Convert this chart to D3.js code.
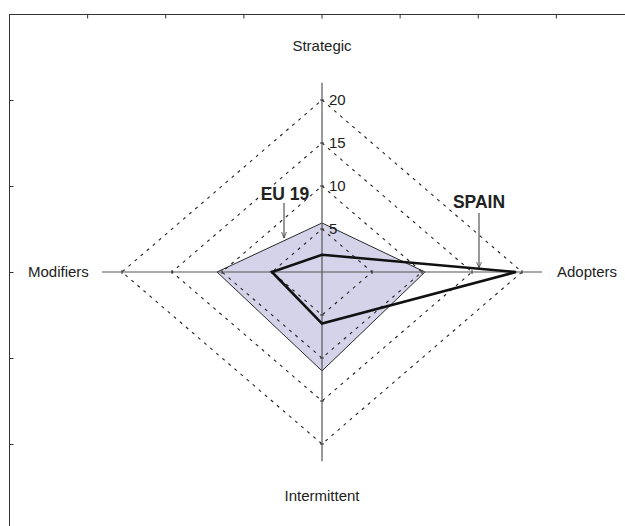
<!DOCTYPE html>
<html><head><meta charset="utf-8">
<script src="https://cdn.jsdelivr.net/npm/d3@7"></script>
<style>body{margin:0;background:#fff}svg{display:block}text{font-family:"Liberation Sans",Arial,sans-serif}</style>
</head><body><div id="chart"></div>
<script>
const axesNames = ["Strategic","Adopters","Intermittent","Modifiers"];
const eu19 = [5.7, 10.3, 11.5, 10.5];
const spain = [2.0, 19.4, 6.0, 5.0];
const levels = [5, 10, 15, 20];
const levelLabels = ["5","10","15","20"];
const frameXTicks = [-4,-3,-2,-1,0,1,2,3,4];
const frameYTicks = [-3,-2,-1,0,1,2,3];

const W = 625, H = 526;
const svg = d3.select("#chart").append("svg").attr("width", W).attr("height", H);

// frame (outer axes box)
const fx = d3.scaleLinear().domain([-4, 4]).range([9.5, 634.5]);
const fy = d3.scaleLinear().domain([3, -3]).range([14.5, 530.5]);
const frame = svg.append("g");
frame.append("line").attr("x1", fx(-4)).attr("x2", fx(4)).attr("y1", fy(3)).attr("y2", fy(3)).attr("stroke","#333").attr("stroke-width",1);
frame.append("line").attr("x1", fx(-4)).attr("x2", fx(-4)).attr("y1", fy(3)).attr("y2", fy(-3)).attr("stroke","#333").attr("stroke-width",1);
frame.selectAll(".tx").data(frameXTicks).join("line")
  .attr("x1", d=>fx(d)).attr("x2", d=>fx(d)).attr("y1", fy(3)).attr("y2", fy(3)+4)
  .attr("stroke","#333");
frame.selectAll(".ty").data(frameYTicks).join("line")
  .attr("x1", fx(-4)).attr("x2", fx(-4)+4).attr("y1", d=>fy(d)).attr("y2", d=>fy(d))
  .attr("stroke","#333");

// radar scales
const cx = 322, cy = 272;
const rx = d3.scaleLinear().domain([0, 20]).range([0, 200]);
const ry = d3.scaleLinear().domain([0, 20]).range([0, 172]);
const dirs = [[0,-1],[1,0],[0,1],[-1,0]];
function pt(i, v){ return [cx + dirs[i][0]*rx(v), cy + dirs[i][1]*ry(v)]; }
const line = d3.line().curve(d3.curveLinearClosed);

const g = svg.append("g");

// EU19 filled polygon
g.append("path").attr("d", line(eu19.map((v,i)=>pt(i,v))))
  .attr("fill","#d5d3ea").attr("stroke","#2a2a2a").attr("stroke-width",1);

// dashed diamonds
levels.forEach(l=>{
  g.append("path").attr("d", line(axesNames.map((_,i)=>pt(i,l))))
    .attr("fill","none").attr("stroke","#222").attr("stroke-width",1.1).attr("stroke-dasharray","3,5");
});

// axes lines
const axLen = 22;
g.append("line").attr("x1", pt(3,axLen)[0]).attr("x2", pt(1,axLen)[0]).attr("y1", cy).attr("y2", cy)
  .attr("stroke","#555").attr("stroke-width",1.2);
g.append("line").attr("x1", cx).attr("x2", cx).attr("y1", pt(0,axLen)[1]).attr("y2", pt(2,axLen)[1])
  .attr("stroke","#555").attr("stroke-width",1.2);

// little tick marks at levels
levels.forEach(l=>{
  [0,2].forEach(i=>{ const p = pt(i,l);
    g.append("line").attr("x1",p[0]-2).attr("x2",p[0]+2).attr("y1",p[1]).attr("y2",p[1]).attr("stroke","#333"); });
  [1,3].forEach(i=>{ const p = pt(i,l);
    g.append("line").attr("x1",p[0]).attr("x2",p[0]).attr("y1",p[1]-2).attr("y2",p[1]+2).attr("stroke","#333"); });
});

// Spain polygon
g.append("path").attr("d", line(spain.map((v,i)=>pt(i,v))))
  .attr("fill","none").attr("stroke","#111").attr("stroke-width",2.6).attr("stroke-linejoin","miter");

// level labels
g.selectAll(".lvl").data(levels).join("text")
  .attr("x", cx + 7).attr("y", d=>pt(0,d)[1]).attr("dy","0.36em")
  .attr("font-size", 15).attr("fill","#222").text((d,i)=>levelLabels[i]);

// axis names
const lab = svg.append("g").attr("font-size",15).attr("fill","#222");
lab.append("text").attr("x", cx).attr("y", 46).attr("dy","0.36em").attr("text-anchor","middle").text(axesNames[0]);
lab.append("text").attr("x", 557).attr("y", cy).attr("dy","0.36em").attr("text-anchor","start").text(axesNames[1]);
lab.append("text").attr("x", cx).attr("y", 496).attr("dy","0.36em").attr("text-anchor","middle").text(axesNames[2]);
lab.append("text").attr("x", 28).attr("y", cy).attr("dy","0.36em").attr("text-anchor","start").text(axesNames[3]);

// annotations
svg.append("defs").append("marker").attr("id","arr").attr("viewBox","0 0 10 10").attr("refX",10).attr("refY",5)
  .attr("markerWidth",6).attr("markerHeight",8).attr("orient","auto")
  .append("path").attr("d","M0,1 L10,5 L0,9").attr("fill","none").attr("stroke","#333").attr("stroke-width",1.2);
function annot(text, tx, ty, ax, ay1, ay2){
  svg.append("text").attr("x",tx).attr("y",ty).attr("dy","0.36em").attr("text-anchor","middle")
    .attr("font-size",17.5).attr("font-weight","bold").attr("fill","#222").text(text);
  svg.append("line").attr("x1",ax).attr("x2",ax).attr("y1",ay1).attr("y2",ay2)
    .attr("stroke","#333").attr("stroke-width",1).attr("marker-end","url(#arr)");
}
annot("EU 19", 285, 194, 284, 203, 238);
annot("SPAIN", 479, 201.5, 479, 213, 268);
</script></body></html>
